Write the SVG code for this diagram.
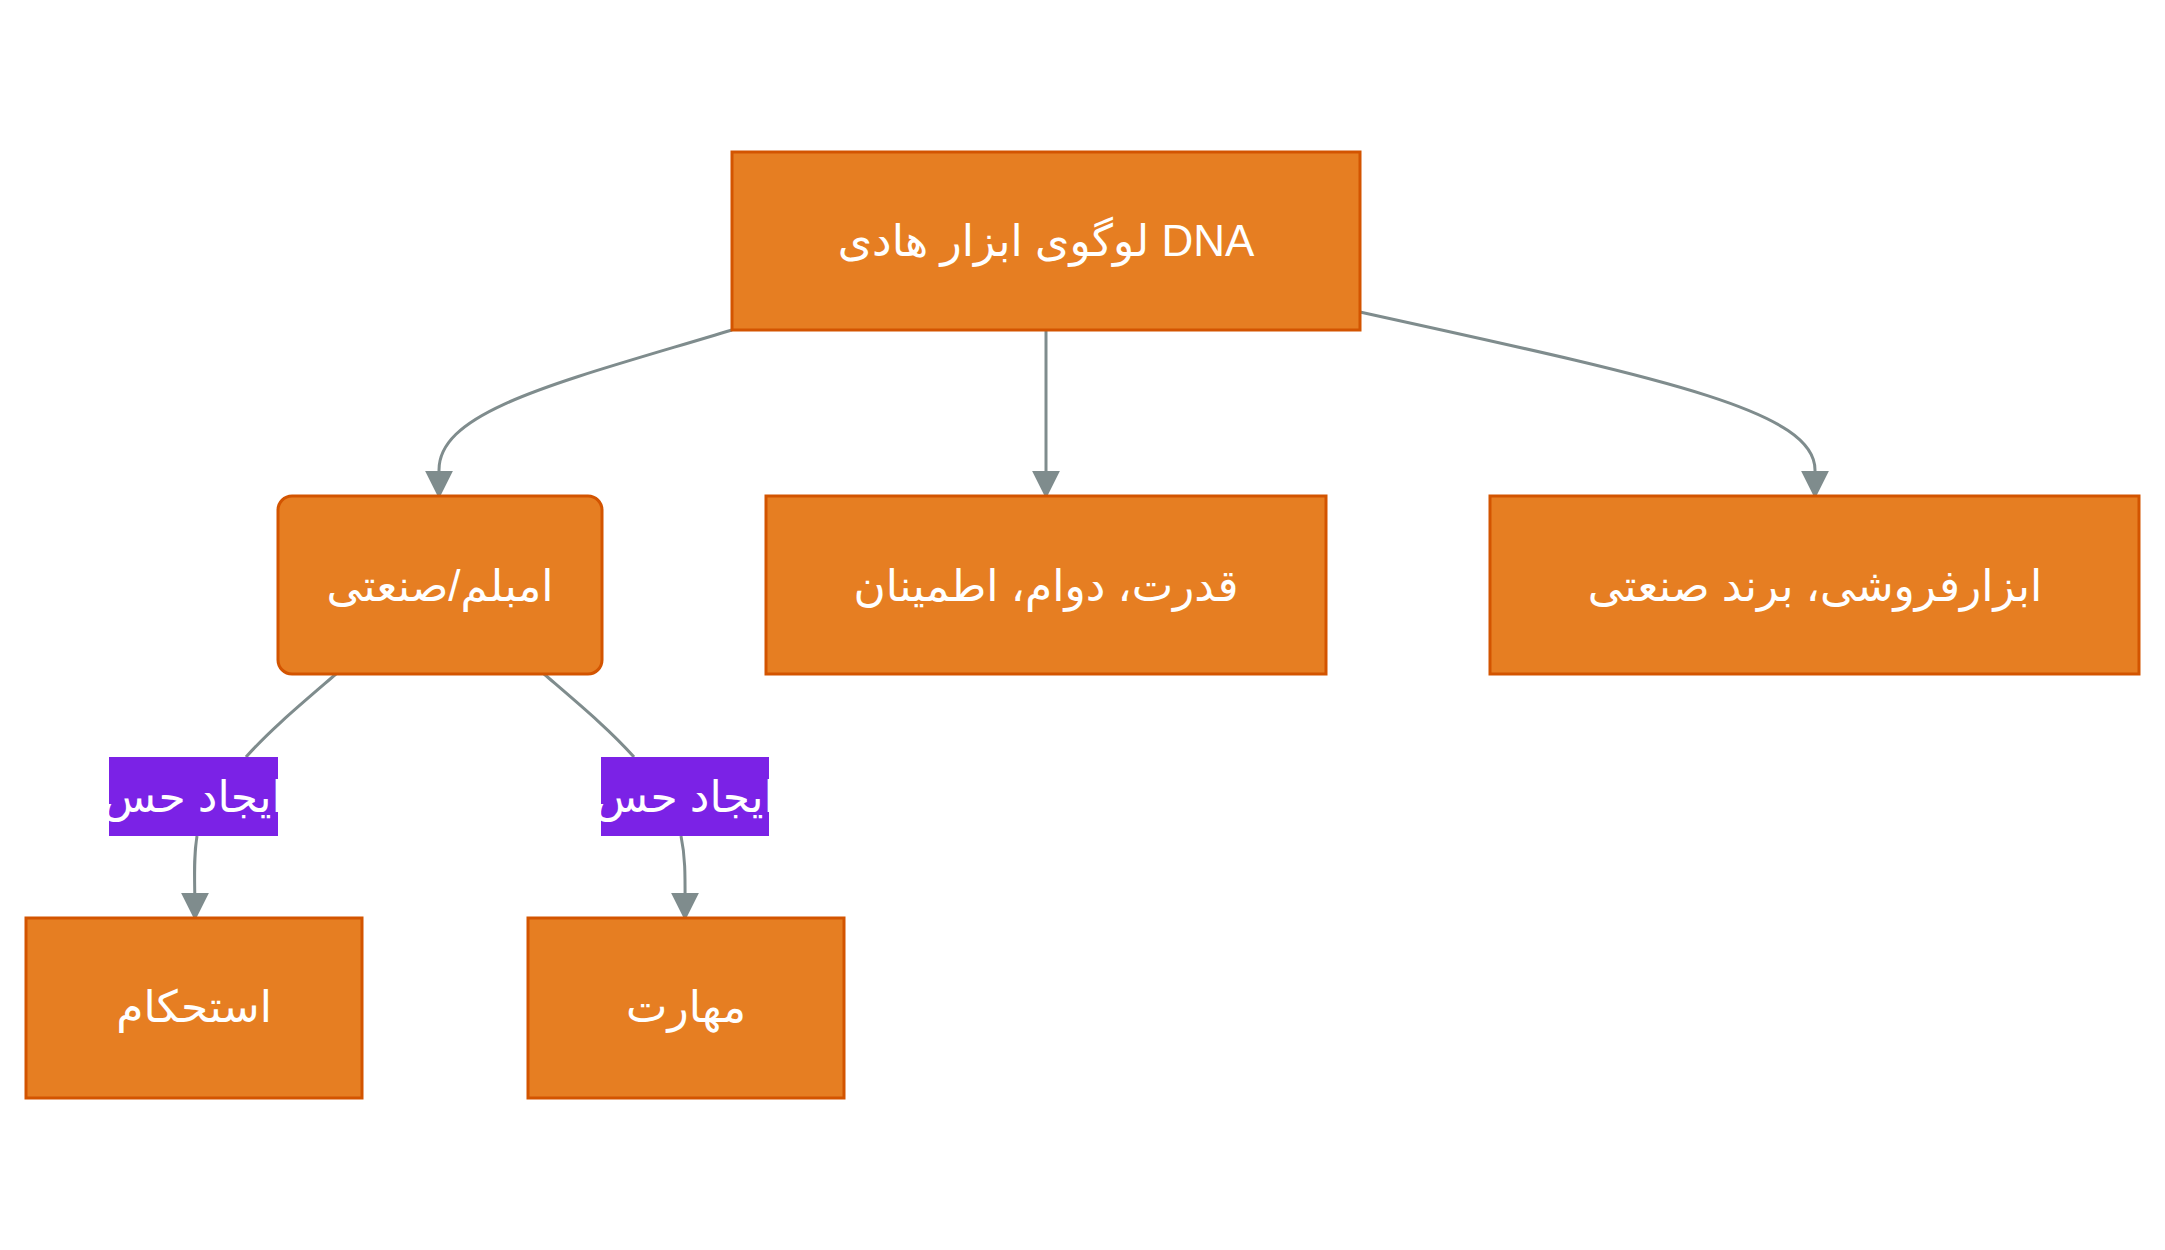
<svg xmlns="http://www.w3.org/2000/svg" width="2165" height="1250" viewBox="0 0 2165 1250">
<style>
.n{fill:#E67E22;stroke:#D35400;stroke-width:3}
.t{fill:#fff;font-family:"Liberation Sans","DejaVu Sans",sans-serif;font-size:44px;text-anchor:middle;dominant-baseline:central}
.e{fill:none;stroke:#7F8C8D;stroke-width:3}
.l{fill:#7B22E6}
</style>
<defs><marker id="a" viewBox="0 0 10 10" refX="9" refY="5" markerWidth="9" markerHeight="9" markerUnits="userSpaceOnUse" orient="auto"><path d="M0,0L10,5L0,10z" fill="#7F8C8D"/></marker>
<marker id="m" viewBox="0 0 10 10" refX="9" refY="5" markerWidth="28" markerHeight="28" markerUnits="userSpaceOnUse" orient="auto"><path d="M0,0L10,5L0,10z" fill="#7F8C8D"/></marker></defs>
<rect width="2165" height="1250" fill="#fff"/>
<g id="edges">
<path class="e" marker-end="url(#m)" d="M732,330 C560,382 439,410 439,470 L439,496"/>
<path class="e" marker-end="url(#m)" d="M1046,330 L1046,496"/>
<path class="e" marker-end="url(#m)" d="M1360,312 C1660,378 1815,410 1815,470 L1815,496"/>
<path class="e" d="M336,674 C300,705 270,730 246,757"/>
<path class="e" marker-end="url(#m)" d="M197,836 C193,860 195,880 195,918"/>
<path class="e" d="M544,674 C580,705 610,730 634,757"/>
<path class="e" marker-end="url(#m)" d="M681,836 C686,860 685,880 685,918"/>
</g>
<g id="root"><rect class="n" x="732" y="152" width="628" height="178"/><text class="t" x="1046" y="240">لوگوی ابزار هادی DNA</text></g>
<g id="emblem"><rect class="n" x="278" y="496" width="324" height="178" rx="14"/><text class="t" x="440" y="585">امبلم/صنعتی</text></g>
<g id="power"><rect class="n" x="766" y="496" width="560" height="178"/><text class="t" x="1046" y="585">قدرت، دوام، اطمینان</text></g>
<g id="brand"><rect class="n" x="1490" y="496" width="649" height="178"/><text class="t" x="1815" y="585">ابزارفروشی، برند صنعتی</text></g>
<g id="label1"><rect class="l" x="109" y="757" width="169" height="79"/><text class="t" x="193" y="796">ایجاد حس</text></g>
<g id="label2"><rect class="l" x="601" y="757" width="168" height="79"/><text class="t" x="685" y="796">ایجاد حس</text></g>
<g id="strength"><rect class="n" x="26" y="918" width="336" height="180"/><text class="t" x="194" y="1006">استحکام</text></g>
<g id="skill"><rect class="n" x="528" y="918" width="316" height="180"/><text class="t" x="686" y="1006">مهارت</text></g>
</svg>
